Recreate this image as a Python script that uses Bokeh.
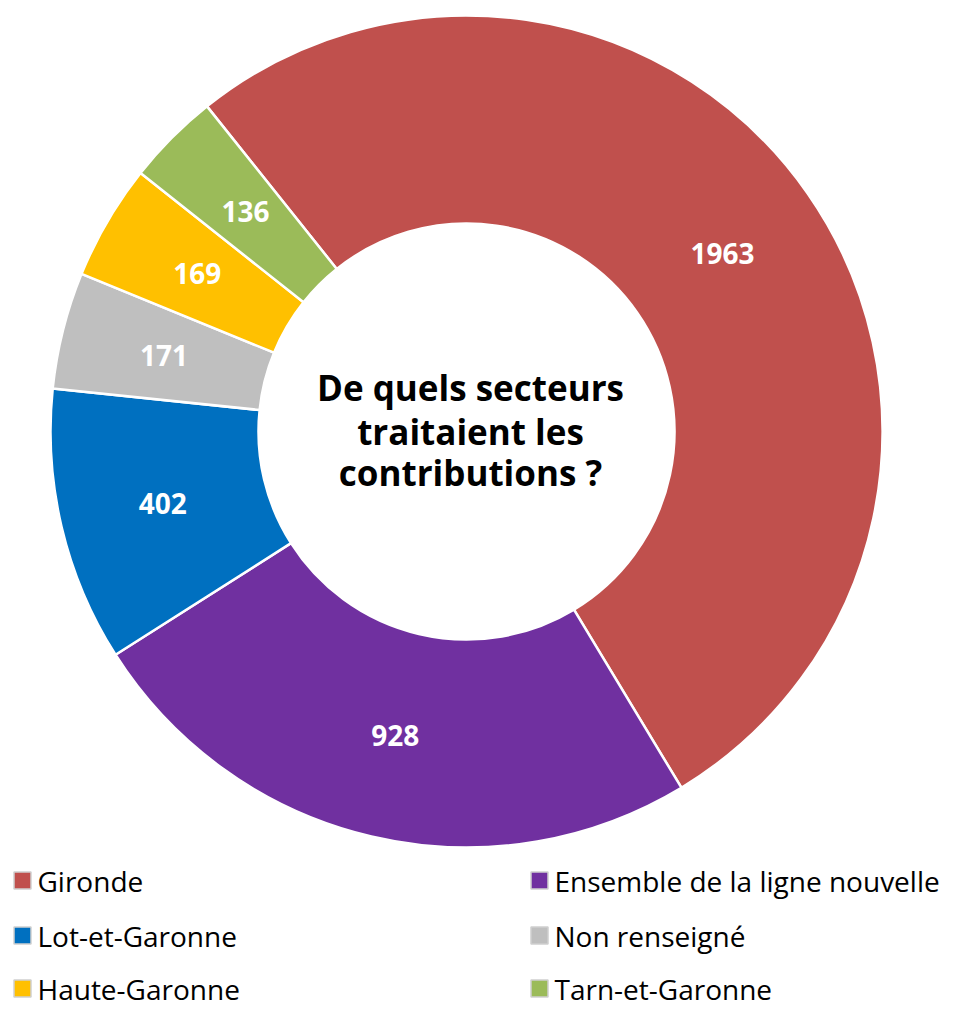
import math
from bokeh.plotting import figure
from bokeh.models import Range1d, ColumnDataSource
from bokeh.core.properties import value
from bokeh.embed import file_html
from bokeh.resources import INLINE

# ---- data ----
categories = ["Gironde", "Ensemble de la ligne nouvelle", "Lot-et-Garonne",
              "Non renseigné", "Haute-Garonne", "Tarn-et-Garonne"]
counts = [1963, 928, 402, 171, 169, 136]
colors = ["#C0504D", "#7030A0", "#0070C0", "#BFBFBF", "#FFC000", "#9BBB59"]
center_title = ["De quels secteurs", "traitaient les", "contributions ?"]
legend_order = ["Gironde", "Ensemble de la ligne nouvelle", "Lot-et-Garonne",
                "Non renseigné", "Haute-Garonne", "Tarn-et-Garonne"]

# ---- layout (image pixel coordinates, y measured upward) ----
W, H = 967, 1011
def Y(img_y):
    return 1011 - img_y

cx, cy = 466, Y(431)
r_out, r_in = 416, 208
start_deg = 128.6

total = sum(counts)
starts, ends, mids = [], [], []
a = math.radians(start_deg)
for c in counts:
    span = 2 * math.pi * c / total
    starts.append(a)
    ends.append(a - span)
    mids.append(a - span / 2)
    a -= span

r_lab = (r_out + r_in) / 2
src = ColumnDataSource(dict(
    start=ends, end=starts, color=colors,
    lx=[cx + r_lab * math.cos(m) for m in mids],
    ly=[cy + r_lab * math.sin(m) for m in mids],
    lab=[str(c) for c in counts],
))

p = figure(width=W, height=H, output_backend="svg", toolbar_location=None,
           x_range=Range1d(0, W), y_range=Range1d(0, H),
           x_axis_location=None, y_axis_location=None, min_border=0,
           outline_line_color=None)
p.grid.visible = False

p.annular_wedge(x=cx, y=cy, inner_radius=r_in, outer_radius=r_out,
                start_angle="start", end_angle="end", fill_color="color",
                line_color="white", line_width=2.5, source=src)

p.text(x="lx", y="ly", text="lab", source=src, text_color="white",
       text_font=value("Open Sans"), text_font_style="bold", text_font_size="28px",
       text_align="center", text_baseline="middle")

title_y = [Y(387), Y(431), Y(472)]
p.text(x=[cx + 4] * 3, y=title_y, text=center_title, text_color="black",
       text_font=value("Open Sans"), text_font_style="bold", text_font_size="35px",
       text_align="center", text_baseline="middle")

# legend
col_x = [22, 539]
row_y = [Y(880), Y(935), Y(988)]
lx, ly, lc, lt = [], [], [], []
for i, name in enumerate(legend_order):
    k = categories.index(name)
    lx.append(col_x[i % 2])
    ly.append(row_y[i // 2])
    lc.append(colors[k])
    lt.append(name)
p.rect(x=lx, y=ly, width=17, height=17, fill_color=lc, line_color="#d0d0d0",
       line_width=1.5)
p.text(x=[x + 15 for x in lx], y=ly, text=lt, text_color="black",
       text_font=value("Open Sans"), text_font_size="28px",
       text_align="left", text_baseline="middle")

open("out.html", "w").write(file_html(p, INLINE))
